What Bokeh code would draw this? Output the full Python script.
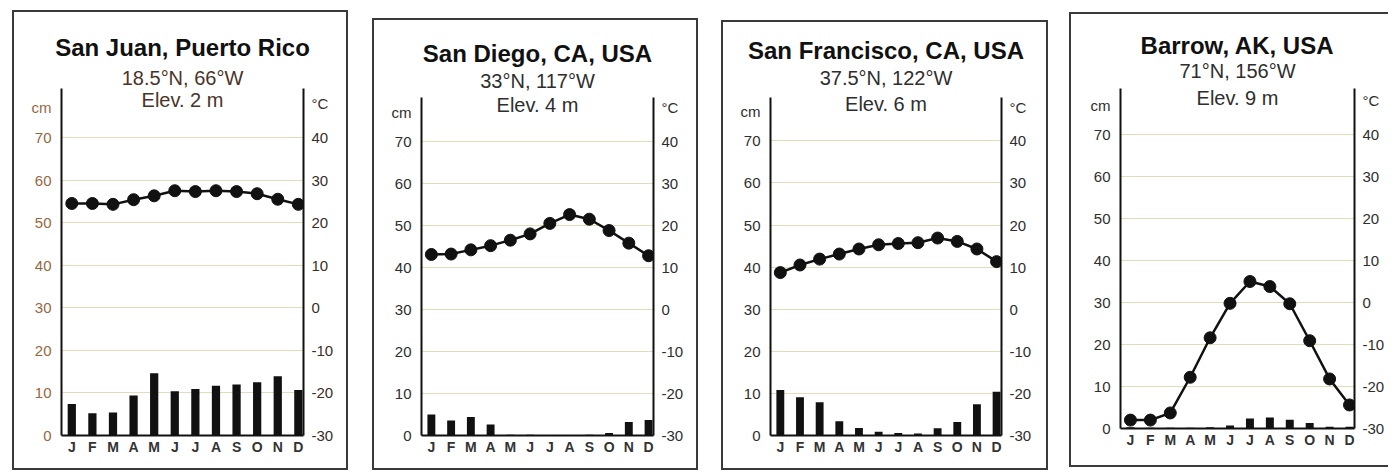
from bokeh.plotting import figure
from bokeh.models import Range1d, LinearAxis, FixedTicker, Label
from bokeh.layouts import row, column
from bokeh.embed import file_html
from bokeh.resources import INLINE

# ---------------- data ----------------
month_labels = ["J", "F", "M", "A", "M", "J", "J", "A", "S", "O", "N", "D"]
cm_ticks = [0, 10, 20, 30, 40, 50, 60, 70]
temp_ticks = [-30, -20, -10, 0, 10, 20, 30, 40]
temp_tick_labels = ["-30", "-20", "-10", "0", "10", "20", "30", "40"]

stations = ["San Juan, Puerto Rico", "San Diego, CA, USA", "San Francisco, CA, USA", "Barrow, AK, USA"]
coords = ["18.5°N, 66°W", "33°N, 117°W", "37.5°N, 122°W", "71°N, 156°W"]
elevations = ["Elev. 2 m", "Elev. 4 m", "Elev. 6 m", "Elev. 9 m"]

sj_precip = [7.4, 5.2, 5.4, 9.4, 14.6, 10.4, 10.9, 11.7, 12.0, 12.5, 13.9, 10.7]
sj_temp = [24.5, 24.5, 24.3, 25.4, 26.3, 27.5, 27.3, 27.5, 27.3, 26.8, 25.5, 24.3]
sd_precip = [5.0, 3.6, 4.4, 2.6, 0.2, 0.2, 0.1, 0.1, 0.2, 0.6, 3.2, 3.7]
sd_temp = [13.1, 13.2, 14.2, 15.2, 16.5, 18.0, 20.5, 22.6, 21.5, 18.8, 15.8, 12.8]
sf_precip = [10.8, 9.1, 7.9, 3.4, 1.8, 0.9, 0.6, 0.5, 1.7, 3.2, 7.4, 10.4]
sf_temp = [8.7, 10.5, 11.9, 13.1, 14.3, 15.3, 15.6, 15.8, 16.9, 16.1, 14.3, 11.3]
ba_precip = [0.3, 0.2, 0.2, 0.2, 0.3, 0.7, 2.4, 2.6, 2.1, 1.3, 0.4, 0.4]
ba_temp = [-28.0, -28.0, -26.3, -17.8, -8.4, -0.2, 5.0, 3.8, -0.3, -9.1, -18.2, -24.4]

precips = [sj_precip, sd_precip, sf_precip, ba_precip]
temps = [sj_temp, sd_temp, sf_temp, ba_temp]

# ---------------- layout / style ----------------
FONT = "Liberation Sans"
# (margin_left, margin_top, inner_width, header_h, title_cy, sub_cy,
#  fr_left, fr_right, frame_h, fr_bottom, axis_gap_px, px_per_cm)
geom = [
    (14, 12, 332, 76, 35, 65, 47, 43, 347, 33, 0, 4.257),
    (28, 20, 322, 71, 33, 60, 47, 43, 344, 33, 6, 4.20),
    (27, 22, 323, 66, 28, 55, 47, 45, 347, 33, 9, 4.21),
    (25, 14, 317, 67, 31, 56, 49, 34, 347, 37, 7, 4.20),
]
left_label_colors = ["#96683f", "#2e2e2e", "#2e2e2e", "#2e2e2e"]
right_label_colors = ["#3a2e26", "#2e2e2e", "#2e2e2e", "#2e2e2e"]
sub_colors = ["#4a3428", "#2e2e2e", "#2e2e2e", "#2e2e2e"]
X0, X1 = -0.5, 11.25
CM_TICK, TEMP_TICK = 77, 48
ELEV_Y = 78.8
BC = "#3a3a3a"


def style_axis(ax, color, standoff):
    ax.axis_line_width = 2
    ax.axis_line_color = "#111111"
    ax.major_tick_line_color = None
    ax.minor_tick_line_color = None
    ax.major_tick_out = 0
    ax.major_tick_in = 0
    ax.minor_tick_out = 0
    ax.minor_tick_in = 0
    ax.axis_label_standoff = 0
    ax.axis_label_text_font_size = "0px"
    ax.major_label_text_font = FONT
    ax.major_label_text_color = color
    ax.major_label_standoff = standoff


cols = []
for i in range(4):
    ml, mt, w, hh, tcy, scy, fl, fr, fh, fb, gap, sc = geom[i]
    xs = list(range(12))
    xc = (fl + (w - fr)) / 2.0

    # ----- header (station name + coordinates) -----
    hd = figure(width=w, height=hh, x_range=Range1d(0, w), y_range=Range1d(hh, 0),
                output_backend="svg", toolbar_location=None, title=None,
                x_axis_type=None, y_axis_type=None,
                min_border_left=0, min_border_right=0, min_border_top=0, min_border_bottom=0)
    hd.frame_align = False
    hd.grid.visible = False
    hd.outline_line_color = None
    hd.background_fill_color = "#ffffff"
    hd.border_fill_color = "#ffffff"
    hd.add_layout(Label(x=xc, y=tcy, text=stations[i], text_align="center", text_baseline="middle",
                        text_font=FONT, text_font_size="24px", text_font_style="bold", text_color="#111111"))
    hd.add_layout(Label(x=xc, y=scy, text=coords[i], text_align="center", text_baseline="middle",
                        text_font=FONT, text_font_size="20px", text_color=sub_colors[i]))

    # ----- climate chart -----
    yend = fh / sc
    axis_top = yend - gap / sc
    p = figure(width=w, height=fh + fb, x_range=Range1d(X0, X1), y_range=Range1d(0, yend),
               output_backend="svg", toolbar_location=None, title=None,
               min_border_left=fl, min_border_right=fr, min_border_top=0, min_border_bottom=fb)
    p.frame_align = False
    p.extra_y_ranges = {"temp": Range1d(-30, yend - 30)}
    p.outline_line_color = None
    p.background_fill_color = "#ffffff"
    p.border_fill_color = "#ffffff"

    p.xgrid.visible = False
    p.ygrid.ticker = FixedTicker(ticks=cm_ticks[1:])
    p.ygrid.grid_line_color = "#e4dcb8"
    p.ygrid.grid_line_width = 1

    ya = p.yaxis[0]
    ya.ticker = FixedTicker(ticks=cm_ticks + [CM_TICK])
    ya.major_label_overrides = {CM_TICK: "cm"}
    ya.bounds = (0, axis_top)
    style_axis(ya, left_label_colors[i], 10)
    ya.major_label_text_font_size = "15px"

    ra = LinearAxis(y_range_name="temp", ticker=FixedTicker(ticks=temp_ticks + [TEMP_TICK]))
    ovr = {t: s for t, s in zip(temp_ticks, temp_tick_labels)}
    ovr[TEMP_TICK] = "°C"
    ra.major_label_overrides = ovr
    ra.bounds = (-30, axis_top - 30)
    style_axis(ra, right_label_colors[i], 8)
    ra.major_label_text_font_size = "15px"
    p.add_layout(ra, "right")

    xa = p.xaxis[0]
    xa.ticker = FixedTicker(ticks=xs)
    xa.major_label_overrides = {k: month_labels[k] for k in xs}
    style_axis(xa, "#333333", 3)
    xa.major_label_text_font_size = "14px"
    xa.major_label_text_font_style = "bold"

    p.vbar(x=xs, top=precips[i], width=0.4, bottom=0, fill_color="#111111", line_color=None)
    p.line(x=xs, y=temps[i], y_range_name="temp", line_width=2.5, line_color="#111111")
    p.scatter(x=xs, y=temps[i], y_range_name="temp", size=12, fill_color="#111111", line_color="#111111")

    p.add_layout(Label(x=(X0 + X1) / 2, y=ELEV_Y, text=elevations[i], text_align="center",
                       text_baseline="middle", text_font=FONT, text_font_size="20px",
                       text_color=sub_colors[i]))

    col = column(hd, p, spacing=0)
    col.margin = (mt, 0, 0, ml)
    if i < 3:
        col.styles = {"box-shadow": "0 0 0 2px %s" % BC}
    else:
        col.styles = {"box-shadow": ", ".join([
            "-2px 0 0 0 %s" % BC, "0 -2px 0 0 %s" % BC, "0 2px 0 0 %s" % BC,
            "-2px -2px 0 0 %s" % BC, "-2px 2px 0 0 %s" % BC])}
    cols.append(col)

layout = row(*cols, spacing=0)
open("out.html", "w").write(file_html(layout, INLINE))
